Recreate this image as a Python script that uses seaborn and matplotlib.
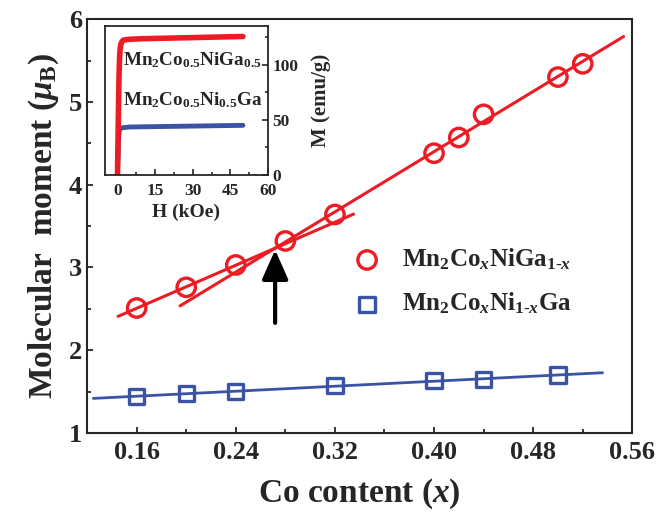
import numpy as np
import matplotlib
matplotlib.use('Agg')
import matplotlib.pyplot as plt
import seaborn as sns

# datos
x_red = [0.16, 0.20, 0.24, 0.28, 0.32, 0.40, 0.42, 0.44, 0.50, 0.52]
y_red = [2.51, 2.76, 3.03, 3.32, 3.64, 4.38, 4.57, 4.85, 5.30, 5.46]
x_blue = [0.16, 0.20, 0.24, 0.32, 0.40, 0.44, 0.50]
y_blue = [1.44, 1.48, 1.50, 1.57, 1.63, 1.65, 1.70]

# rangos de los ajustes lineales
fit_a_range = [0.145, 0.335]   # x <= 0.24
fit_b_range = [0.195, 0.553]   # x >= 0.28
fit_blue_range = [0.125, 0.536]

# curvas M-H del inset
H_red = [0, 0.2, 0.4, 0.6, 0.8, 1.0, 1.3, 1.7, 2.2, 3, 5, 10, 20, 30, 40, 50]
M_red = [0, 30, 60, 88, 105, 113, 118, 120.5, 122, 122.5, 123, 123.5, 124, 124.5, 125, 125.5]
H_blue = [0, 0.2, 0.4, 0.6, 0.8, 1.0, 1.5, 2.5, 5, 20, 35, 50]
M_blue = [0, 15, 30, 38, 41, 42, 42.5, 43, 43.5, 44, 44.5, 45]

lab_red = r'Mn$_2$Co$_x$NiGa$_{\mathrm{1‐}x}$'
lab_blue = r'Mn$_2$Co$_x$Ni$_{\mathrm{1‐}x}$Ga'

RED = '#ed1c24'
BLUE = '#3a53a4'

sns.set_style('ticks')
plt.rcParams['font.family'] = ['Liberation Serif', 'DejaVu Serif']
plt.rcParams['font.weight'] = 'bold'
plt.rcParams['mathtext.fontset'] = 'custom'
plt.rcParams['mathtext.rm'] = 'Liberation Serif:bold'
plt.rcParams['mathtext.it'] = 'Liberation Serif:italic:bold'
plt.rcParams['mathtext.bf'] = 'Liberation Serif:bold'

fig = plt.figure(figsize=(6.6, 5.17), dpi=100)
ax = fig.add_axes([0.132, 0.1625, 0.826, 0.8005])

# ajustes lineales
pa = np.polyfit(x_red[:3], y_red[:3], 1)
pb = np.polyfit(x_red[3:], y_red[3:], 1)
pc = np.polyfit(x_blue, y_blue, 1)
xa = np.array(fit_a_range)
xb = np.array(fit_b_range)
xc = np.array(fit_blue_range)
sns.lineplot(x=xa, y=np.polyval(pa, xa), color=RED, lw=2.2, ax=ax)
sns.lineplot(x=xb, y=np.polyval(pb, xb), color=RED, lw=2.2, ax=ax)
sns.lineplot(x=xc, y=np.polyval(pc, xc), color=BLUE, lw=2.0, ax=ax)

h1 = ax.scatter(x_red, y_red, marker='o', s=175, facecolors='none',
                edgecolors=RED, linewidths=2.4, zorder=3, label=lab_red)
h2 = ax.scatter(x_blue, y_blue, marker='s', s=120, facecolors='none',
                edgecolors=BLUE, linewidths=2.4, zorder=3, label=lab_blue)

# flecha en el cruce de los ajustes
x_cross = (pb[1] - pa[1]) / (pa[0] - pb[0])
y_cross = np.polyval(pa, x_cross)
ax.annotate('', xy=(x_cross, y_cross - 0.02), xytext=(x_cross, 2.33),
            arrowprops=dict(arrowstyle='-|>,head_length=0.72,head_width=0.32',
                            lw=3, color='k', mutation_scale=25, shrinkA=0, shrinkB=0))

ax.set_xlim(0.12, 0.56)
ax.set_ylim(1, 6)
ax.set_xticks([0.16, 0.24, 0.32, 0.40, 0.48, 0.56])
ax.set_xticklabels(['0.16', '0.24', '0.32', '0.40', '0.48', '0.56'])
ax.set_xticks(np.arange(0.20, 0.56, 0.08), minor=True)
ax.set_yticks([1, 2, 3, 4, 5, 6])
ax.set_yticks([1.5, 2.5, 3.5, 4.5, 5.5], minor=True)
ax.tick_params(which='both', direction='in', labelsize=19, width=1.3)
ax.tick_params(which='major', length=4.5)
ax.tick_params(which='minor', length=3)
ax.tick_params(axis='x', pad=6)
for s in ax.spines.values():
    s.set_linewidth(1.5)
ax.set_xlabel(r'Co content ($x$)', fontsize=24, fontweight='bold', labelpad=9)
ax.set_ylabel(r'Molecular  moment ($\mu_\mathrm{B}$)', fontsize=24, fontweight='bold', labelpad=6)

ax.legend(handles=[h1, h2], loc='center left', bbox_to_anchor=(0.486, 0.366),
          frameon=False, fontsize=18, handlelength=1.2, handletextpad=0.8,
          labelspacing=0.75, borderpad=0, borderaxespad=0)

# inset
axi = fig.add_axes([0.159, 0.6615, 0.247, 0.2882])
sns.lineplot(x=H_blue, y=M_blue, color=BLUE, lw=3.5, ax=axi, sort=False)
sns.lineplot(x=H_red, y=M_red, color=RED, lw=4, ax=axi, sort=False)
axi.set_xlim(-5, 60)
axi.set_ylim(0, 135)
axi.set_xticks([0, 15, 30, 45, 60])
axi.set_xticks([7.5, 22.5, 37.5, 52.5], minor=True)
axi.set_yticks([0, 50, 100])
axi.set_yticks([25, 75, 125], minor=True)
axi.yaxis.tick_right()
axi.yaxis.set_label_position('right')
axi.tick_params(which='both', direction='in', labelsize=12.5, width=1.2, pad=3)
axi.tick_params(axis='x', pad=6)
axi.tick_params(which='major', length=4)
axi.tick_params(which='minor', length=2.5)
for s in axi.spines.values():
    s.set_linewidth(1.3)
axi.set_xlabel('H (kOe)', fontsize=14, fontweight='bold', labelpad=3)
axi.set_ylabel('M (emu/g)', fontsize=15, fontweight='bold', labelpad=9)
axi.text(0.11, 0.735, r'Mn$_2$Co$_{0.5}$NiGa$_{0.5}$', transform=axi.transAxes,
         fontsize=13.8, fontweight='bold', va='baseline')
axi.text(0.11, 0.47, r'Mn$_2$Co$_{0.5}$Ni$_{0.5}$Ga', transform=axi.transAxes,
         fontsize=13.8, fontweight='bold', va='baseline')

fig.savefig('out.png', dpi=100)
